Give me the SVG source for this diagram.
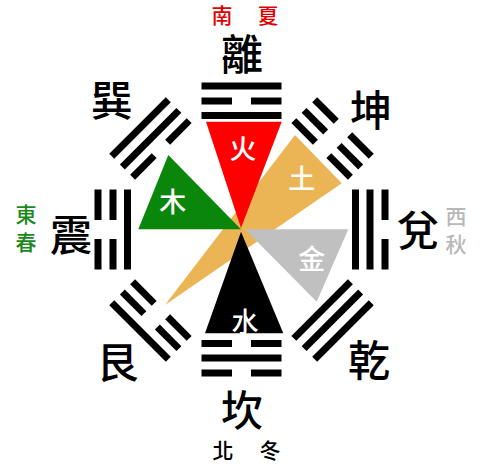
<svg xmlns="http://www.w3.org/2000/svg" xmlns:xlink="http://www.w3.org/1999/xlink" width="482" height="466" viewBox="0 0 482 466">
<style>
.bar{fill:#000}
.gua{font-family:"Noto Sans CJK TC","Noto Sans CJK SC",sans-serif;font-size:42px;font-weight:500;fill:#000;text-anchor:middle;dominant-baseline:central}
.side{font-family:"Noto Sans CJK TC","Noto Sans CJK SC",sans-serif;font-size:21px;font-weight:500;text-anchor:middle;dominant-baseline:central}
.el{font-family:"Noto Sans CJK TC","Noto Sans CJK SC",sans-serif;font-size:27px;font-weight:500;fill:#fff;text-anchor:middle;dominant-baseline:central}
</style>
<defs>
<g id="solid"><rect class="bar" x="-40" y="-3.5" width="80" height="7"/></g>
<g id="broken"><rect class="bar" x="-40" y="-3.5" width="30.5" height="7"/><rect class="bar" x="9.5" y="-3.5" width="30.5" height="7"/></g>
</defs>
<rect width="482" height="466" fill="#fff"/>
<g id="elements">
<polygon points="295,135 341.7,183.3 165,305" fill="#ebb454"/>
<polygon points="206,121.7 281.7,121.7 241,228" fill="#ff0000"/>
<polygon points="168.3,155 138.3,229.3 241,229.3" fill="#0a870a"/>
<polygon points="245,229.3 348.3,229.3 316.7,301.7" fill="#c0c0c0"/>
<polygon points="241,231.7 205,333.3 283.3,333.3" fill="#000"/>
<text class="el" x="243" y="147">火</text>
<text class="el" x="301.7" y="177">土</text>
<text class="el" x="172.7" y="200">木</text>
<text class="el" x="311.7" y="257">金</text>
<text class="el" x="245" y="320">水</text>
</g>
<g id="li">
<g transform="rotate(0 241.5 229.5)"><use href="#solid" x="241.5" y="86"/><use href="#broken" x="241.5" y="101"/><use href="#solid" x="241.5" y="115.5"/></g>
<text class="gua" x="242" y="51">離</text>
<text class="side" x="222" y="14" fill="#e00000">南</text><text class="side" x="268" y="14" fill="#e00000">夏</text>
</g>
<g id="kun">
<g transform="rotate(45 241.5 229.5)"><use href="#broken" x="241.5" y="86"/><use href="#broken" x="241.5" y="101"/><use href="#broken" x="241.5" y="115.5"/></g>
<text class="gua" x="371" y="107">坤</text>
</g>
<g id="dui">
<g transform="rotate(90 241.5 229.5)"><use href="#broken" x="241.5" y="86"/><use href="#solid" x="241.5" y="101"/><use href="#solid" x="241.5" y="115.5"/></g>
<text class="gua" x="418" y="227">兌</text>
<text class="side" x="456" y="215" fill="#b8b8b8">西</text><text class="side" x="456" y="243" fill="#b8b8b8">秋</text>
</g>
<g id="qian">
<g transform="rotate(135 241.5 229.5)"><use href="#solid" x="241.5" y="86"/><use href="#solid" x="241.5" y="101"/><use href="#solid" x="241.5" y="115.5"/></g>
<text class="gua" x="369" y="357">乾</text>
</g>
<g id="kan">
<g transform="rotate(180 241.5 229.5)"><use href="#broken" x="241.5" y="86"/><use href="#solid" x="241.5" y="101"/><use href="#broken" x="241.5" y="115.5"/></g>
<text class="gua" x="242" y="407">坎</text>
<text class="side" x="223" y="449" fill="#000">北</text><text class="side" x="270" y="449" fill="#000">冬</text>
</g>
<g id="gen">
<g transform="rotate(225 241.5 229.5)"><use href="#solid" x="241.5" y="86"/><use href="#broken" x="241.5" y="101"/><use href="#broken" x="241.5" y="115.5"/></g>
<text class="gua" x="117.5" y="359">艮</text>
</g>
<g id="zhen">
<g transform="rotate(270 241.5 229.5)"><use href="#broken" x="241.5" y="86"/><use href="#broken" x="241.5" y="101"/><use href="#solid" x="241.5" y="115.5"/></g>
<text class="gua" x="71" y="232">震</text>
<text class="side" x="26" y="213" fill="#1a8a1a">東</text><text class="side" x="26" y="241" fill="#1a8a1a">春</text>
</g>
<g id="xun">
<g transform="rotate(315 241.5 229.5)"><use href="#solid" x="241.5" y="86"/><use href="#solid" x="241.5" y="101"/><use href="#broken" x="241.5" y="115.5"/></g>
<text class="gua" x="111.7" y="97.5">巽</text>
</g>
<g id="connectors"/>
</svg>
